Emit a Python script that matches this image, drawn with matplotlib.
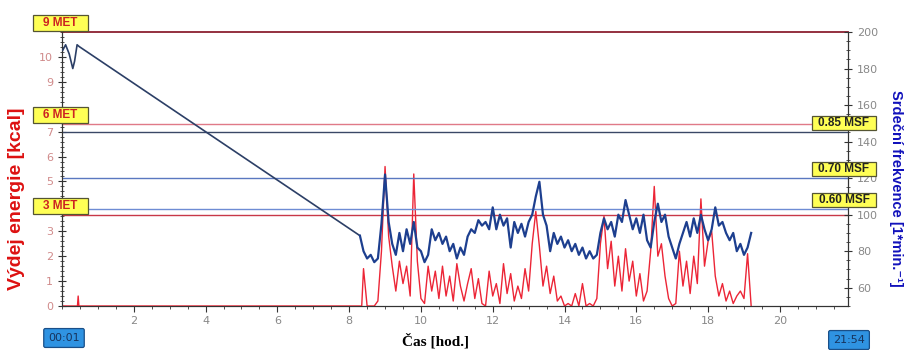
import numpy as np
import matplotlib
matplotlib.use("Agg")
import matplotlib.pyplot as plt
from matplotlib.ticker import MultipleLocator

# early part of the record (hours, bpm / kcal)
hr_early_t = [0.02, 0.1, 0.2, 0.3, 0.35, 0.42, 0.48, 8.3]
hr_early = [190, 193, 188, 180, 184, 193, 192, 88.5]
kcal_early_t = [0.02, 0.43, 0.45, 0.47, 8.35]
kcal_early = [0, 0, 0.4, 0, 0]

# active part, sampled every 0.1 h from 8.4 h
t_start, t_step = 8.4, 0.1
hr_vals = [80, 76, 78, 74, 76, 95, 122, 96, 84, 78,
           90, 80, 92, 84, 96, 82, 80, 74, 78, 92,
           86, 90, 84, 88, 80, 84, 76, 82, 78, 88,
           92, 90, 97, 94, 96, 92, 104, 92, 100, 94,
           98, 82, 96, 90, 95, 88, 96, 100, 110, 118,
           100, 94, 80, 90, 84, 88, 82, 86, 80, 84,
           78, 82, 76, 80, 76, 78, 90, 98, 92, 96,
           88, 100, 96, 108, 100, 92, 98, 90, 100, 86,
           82, 96, 106, 96, 100, 88, 82, 76, 84, 90,
           96, 88, 98, 90, 100, 92, 86, 92, 104, 94,
           96, 90, 86, 90, 80, 84, 78, 82, 90]
kcal_vals = [1.5, 0.0, 0.0, 0.0, 0.2, 2.2, 5.6, 2.8, 1.6, 0.6,
             1.8, 0.9, 1.6, 0.4, 5.3, 1.8, 0.3, 0.1, 1.6, 0.6,
             1.4, 0.3, 1.6, 0.4, 1.2, 0.2, 1.7, 0.8, 0.2, 0.9,
             1.5, 0.3, 1.1, 0.1, 0.0, 1.4, 0.4, 0.9, 0.1, 1.7,
             0.5, 1.3, 0.2, 0.8, 0.3, 1.5, 0.6, 2.5, 3.8, 2.4,
             0.8, 1.6, 0.5, 1.2, 0.2, 0.4, 0.0, 0.1, 0.0, 0.5,
             0.0, 0.9, 0.0, 0.1, 0.0, 0.3, 2.5, 3.6, 1.5, 2.6,
             0.8, 2.0, 0.6, 2.3, 1.0, 1.8, 0.4, 1.3, 0.2, 0.6,
             2.2, 4.8, 2.0, 2.5, 1.2, 0.3, 0.0, 0.1, 2.2, 0.8,
             1.8, 0.5, 2.0, 0.9, 4.3, 1.6, 2.6, 3.0, 1.2, 0.4,
             0.9, 0.2, 0.6, 0.1, 0.4, 0.6, 0.3, 2.1, 0.0]

met_labels = ["9 MET", "6 MET", "3 MET"]
met_kcal = [11.0, 7.3, 3.65]
met_colors = ["#8b2030", "#e07a88", "#c83848"]
msf_labels = ["0.85 MSF", "0.70 MSF", "0.60 MSF"]
msf_bpm = [145.5, 120.0, 103.0]
msf_colors = ["#3a4866", "#5a78c0", "#6e8cd4"]

t_act = t_start + t_step * np.arange(len(hr_vals))
hr_t = np.concatenate([hr_early_t, t_act])
hr = np.concatenate([hr_early, hr_vals])
kcal_t = np.concatenate([kcal_early_t, t_act])
kcal = np.concatenate([kcal_early, kcal_vals])
n0 = len(hr_early_t)

W, H = 908, 350
fig = plt.figure(figsize=(W / 100, H / 100), dpi=100)
ax = fig.add_axes([0.0683, 0.1257, 0.8657, 0.7829])
ax2 = ax.twinx()

ax.set_xlim(0, 21.9)
ax.set_ylim(0, 11)
ax2.set_ylim(50, 200)

ax.plot(kcal_t, kcal, color="#ec2536", lw=1.0, zorder=3)
ax2.plot(hr_t[:n0], hr[:n0], color="#2c3f66", lw=1.2, zorder=4)
ax2.plot(hr_t[n0 - 1:], hr[n0 - 1:], color="#1d3f8f", lw=1.6, zorder=4)


def label_box(x0, w, y_px, h, text, color):
    # yellow box sitting on a reference line, sizes in pixels
    fig.patches.append(plt.Rectangle((x0 / W, y_px / H), w / W, h / H, transform=fig.transFigure,
                                     facecolor="#ffff55", edgecolor="#555533", lw=0.9, zorder=10))
    fig.text((x0 + w / 2) / W, (y_px + h / 2) / H, text, ha="center", va="center", fontsize=8.5,
             fontweight="bold", color=color, family="Liberation Sans", zorder=11)


for lab, v, c in zip(met_labels, met_kcal, met_colors):
    ax.axhline(v, color=c, lw=1.3 if v == 11.0 else 1.0, zorder=2, clip_on=False)
    y_px = ax.transData.transform((0, v))[1]
    label_box(33, 55, y_px + 1, 16, lab, "#cc2222")
for lab, v, c in zip(msf_labels, msf_bpm, msf_colors):
    ax2.axhline(v, color=c, lw=1.0, zorder=2)
    y_px = ax2.transData.transform((0, v))[1]
    label_box(812, 64, y_px + 2, 14, lab, "#222222")

for a in (ax, ax2):
    a.spines["top"].set_visible(False)
    for s in ("left", "right", "bottom"):
        a.spines[s].set_color("#333333")
ax.set_xticks(np.arange(2, 21, 2))
ax.xaxis.set_minor_locator(MultipleLocator(0.5))
ax.set_yticks(np.arange(0, 11, 1))
# 4 and 8 sit under the MET boxes
ax.set_yticklabels(["" if v in (4, 8) else str(v) for v in range(11)])
ax.yaxis.set_minor_locator(MultipleLocator(0.2))
ax2.set_yticks(np.arange(60, 201, 20))
ax2.yaxis.set_minor_locator(MultipleLocator(5))
ax.tick_params(axis="x", direction="out", length=4, labelsize=8, labelcolor="#888888", color="#333333")
ax.tick_params(axis="x", which="minor", direction="out", length=2.5, color="#333333")
ax.tick_params(axis="y", direction="inout", length=6, labelsize=8, labelcolor="#d08a8a", color="#333333")
ax.tick_params(axis="y", which="minor", direction="inout", length=3, color="#333333")
ax2.tick_params(axis="y", direction="inout", length=6, labelsize=8, labelcolor="#888888", color="#333333")
ax2.tick_params(axis="y", which="minor", direction="inout", length=3, color="#333333")

ax.set_ylabel("Výdej energie [kcal]", color="#dd1111", fontweight="bold", fontsize=14,
              family="Liberation Sans")
ax.yaxis.set_label_coords(-0.047, 0.39)
ax2.set_ylabel("Srdeční frekvence [1*min.⁻¹]", color="#1111bb", fontweight="bold", fontsize=10.5,
               rotation=270, family=["Liberation Sans", "DejaVu Sans"])
ax2.yaxis.set_label_coords(1.07, 0.43)
fig.text(436 / W, 1 - 341 / H, "Čas [hod.]", ha="center", va="center", fontsize=11,
         fontweight="bold", family="Liberation Serif")

tbox = dict(boxstyle="round,pad=0.4,rounding_size=0.15", facecolor="#2f93e2", edgecolor="#1a4f88", lw=0.9)
fig.text(64 / W, 1 - 338 / H, "00:01", ha="center", va="center", fontsize=8, color="#17345e", bbox=tbox)
fig.text(849 / W, 1 - 340 / H, "21:54", ha="center", va="center", fontsize=8, color="#17345e", bbox=tbox)

fig.savefig("out.png", dpi=100)
